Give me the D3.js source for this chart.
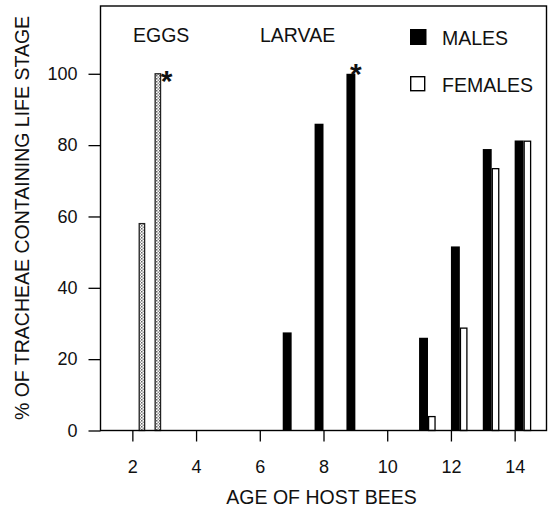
<!DOCTYPE html>
<html>
<head>
<meta charset="utf-8">
<script src="https://cdn.jsdelivr.net/npm/d3@7"></script>
<style>
  body { margin: 0; background: #fff; }
  svg text { font-family: "Liberation Sans", Arial, Helvetica, sans-serif; fill: #111; }
</style>
</head>
<body>
<script>
// eggs (hatched bars, not split by sex)
var eggAges = [2.3, 2.8];
var eggPct = [58, 100];
// larvae, males only
var larvaAges = [7, 8, 9];
var larvaMalePct = [27.5, 86, 100];
// adult stage, males and females
var adultAges = [11, 12, 13, 14];
var adultMalePct = [26, 51.6, 78.9, 81.3];
var adultFemalePct = [3.9, 28.7, 73.4, 81.1];

var xTicks = [2, 4, 6, 8, 10, 12, 14];
var yTicks = [0, 20, 40, 60, 80, 100];

var W = 551, H = 511;
var pLeft = 100.5, pRight = 546.5, pTop = 6, pBottom = 430.5;

var svg = d3.select('body').append('svg')
  .attr('width', W)
  .attr('height', H);

var x = d3.scaleLinear().domain([1, 15]).range([pLeft, pRight]);
var y = d3.scaleLinear().domain([0, 119]).range([pBottom, pTop]);

// hatched fill for the egg bars
var pat = svg.append('defs').append('pattern')
  .attr('id', 'hatch')
  .attr('width', 3).attr('height', 3)
  .attr('patternUnits', 'userSpaceOnUse');
pat.append('rect').attr('width', 3).attr('height', 3).attr('fill', '#fff');
pat.append('rect').attr('width', 1.5).attr('height', 1.5).attr('fill', '#666');
pat.append('rect').attr('x', 1.5).attr('y', 1.5).attr('width', 1.5).attr('height', 1.5).attr('fill', '#999');

var mW = 0.28, fW = 0.24, eW = 0.17;

// eggs
var eggs = eggAges.map(function(a, i){ return {x0: a - eW/2, x1: a + eW/2, v: eggPct[i]}; });
svg.selectAll('rect.egg')
  .data(eggs)
  .enter().append('rect')
    .attr('class', 'egg')
    .attr('x', function(d){ return x(d.x0); })
    .attr('width', function(d){ return x(d.x1) - x(d.x0); })
    .attr('y', function(d){ return y(d.v); })
    .attr('height', function(d){ return y(0) - y(d.v); })
    .attr('fill', 'url(#hatch)')
    .attr('stroke', '#222')
    .attr('stroke-width', 1.3);

// larvae (bars end at the age)
var larvae = larvaAges.map(function(a, i){ return {x0: a - mW, x1: a, v: larvaMalePct[i]}; });
// adults (male starts at the age, female next to it)
var males = adultAges.map(function(a, i){ return {x0: a, x1: a + mW, v: adultMalePct[i]}; });
var females = adultAges.map(function(a, i){ return {x0: a + mW, x1: a + mW + fW, v: adultFemalePct[i]}; });

svg.selectAll('rect.male')
  .data(larvae.concat(males))
  .enter().append('rect')
    .attr('class', 'male')
    .attr('x', function(d){ return x(d.x0); })
    .attr('width', function(d){ return x(d.x1) - x(d.x0); })
    .attr('y', function(d){ return y(d.v); })
    .attr('height', function(d){ return y(0) - y(d.v); })
    .attr('fill', '#000');

svg.selectAll('rect.female')
  .data(females)
  .enter().append('rect')
    .attr('class', 'female')
    .attr('x', function(d){ return x(d.x0) + 0.6; })
    .attr('width', function(d){ return x(d.x1) - x(d.x0) - 1.2; })
    .attr('y', function(d){ return y(d.v); })
    .attr('height', function(d){ return y(0) - y(d.v); })
    .attr('fill', '#fff')
    .attr('stroke', '#000')
    .attr('stroke-width', 1.3);

// asterisks on the 100% bars
var stars = [eggs[1], larvae[2]];
svg.selectAll('text.star')
  .data(stars)
  .enter().append('text')
    .attr('class', 'star')
    .attr('x', function(d, i){ return x(d.x1) + (i == 0 ? 6 : 0.5); })
    .attr('y', function(d, i){ return y(d.v) + (i == 0 ? 17 : 10); })
    .attr('text-anchor', 'middle')
    .attr('font-size', 30)
    .attr('font-weight', 'bold')
    .text('*');

// frame
svg.append('rect')
  .attr('x', pLeft).attr('y', pTop)
  .attr('width', pRight - pLeft).attr('height', pBottom - pTop)
  .attr('fill', 'none')
  .attr('stroke', '#000')
  .attr('stroke-width', 1.4);

var yAxis = svg.append('g')
  .attr('transform', 'translate(' + pLeft + ',0)')
  .call(d3.axisLeft(y).tickValues(yTicks).tickSize(12).tickPadding(11));
var xAxis = svg.append('g')
  .attr('transform', 'translate(0,' + pBottom + ')')
  .call(d3.axisBottom(x).tickValues(xTicks).tickSize(11).tickPadding(19));
[yAxis, xAxis].forEach(function(g){
  g.select('.domain').remove();
  g.selectAll('line').attr('stroke', '#000').attr('stroke-width', 1.3);
  g.selectAll('text').attr('font-size', 18).attr('fill', '#111')
    .style('font-family', '"Liberation Sans", Arial, sans-serif');
});

// axis titles
svg.append('text')
  .attr('x', (pLeft + pRight) / 2 - 2)
  .attr('y', 504)
  .attr('text-anchor', 'middle')
  .attr('font-size', 19.5)
  .text('AGE OF HOST BEES');
svg.append('text')
  .attr('transform', 'translate(29,218) rotate(-90)')
  .attr('text-anchor', 'middle')
  .attr('font-size', 19.5)
  .text('% OF TRACHEAE CONTAINING LIFE STAGE');

// stage labels
svg.append('text').attr('x', 133).attr('y', 42).attr('font-size', 19.5).text('EGGS');
svg.append('text').attr('x', 260).attr('y', 42).attr('font-size', 19.5).text('LARVAE');

// legend
var legend = [{label: 'MALES', fill: '#000'}, {label: 'FEMALES', fill: '#fff'}];
var lg = svg.selectAll('g.legend')
  .data(legend)
  .enter().append('g')
    .attr('class', 'legend')
    .attr('transform', function(d, i){ return 'translate(410,' + (29 + i * 47) + ')'; });
lg.append('rect')
  .attr('x', function(d, i){ return i ? 0.7 : 0; })
  .attr('y', function(d, i){ return i ? 0.7 : 0; })
  .attr('width', function(d, i){ return i ? 14 : 16.5; })
  .attr('height', function(d, i){ return i ? 14 : 16; })
  .attr('fill', function(d){ return d.fill; })
  .attr('stroke', '#000')
  .attr('stroke-width', function(d, i){ return i ? 1.4 : 0; });
lg.append('text')
  .attr('x', 32)
  .attr('y', 15.5)
  .attr('font-size', 19.5)
  .text(function(d){ return d.label; });
</script>
</body>
</html>
